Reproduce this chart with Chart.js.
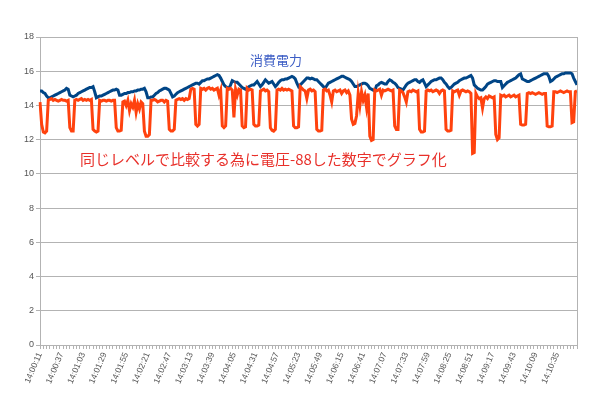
<!DOCTYPE html>
<html>
<head>
<meta charset="utf-8">
<script src="https://cdn.jsdelivr.net/npm/chart.js@4.4.1/dist/chart.umd.min.js"></script>
<style>
html,body{margin:0;padding:0;background:#fff;}
#wrap{width:600px;height:397px;}
</style>
</head>
<body>
<div id="wrap"><canvas id="c" width="600" height="397"></canvas></div>
<script>
// ---- data ----
const startTime = '14:00:11';
const stepSeconds = 2;
const labelEvery = 13; // a time label every 26 seconds

const powerTitle = '消費電力';
const noteText = '同じレベルで比較する為に電圧-88した数字でグラフ化';

// 消費電力 (blue)
const powerValues = [
14.85,14.85,14.75,14.7,14.55,14.45,14.45,14.5,14.55,14.6,
14.65,14.7,14.75,14.8,14.85,14.9,15.0,14.95,14.6,14.55,
14.5,14.55,14.6,14.7,14.75,14.8,14.85,14.9,14.95,15.0,
15.05,15.05,15.1,14.8,14.45,14.5,14.55,14.55,14.6,14.65,
14.7,14.75,14.8,14.85,14.9,14.9,14.95,14.9,14.6,14.6,
14.65,14.7,14.7,14.75,14.75,14.8,14.8,14.85,14.85,14.9,
14.9,14.95,14.95,15.0,14.8,14.45,14.45,14.5,14.5,14.6,
14.7,14.75,14.85,14.9,14.95,15.0,15.0,14.95,14.9,14.7,
14.5,14.55,14.65,14.75,14.8,14.85,14.9,14.95,15.0,15.05,
15.1,15.15,15.2,15.25,15.3,15.3,15.25,15.35,15.45,15.45,
15.5,15.55,15.55,15.6,15.65,15.7,15.75,15.8,15.75,15.6,
15.4,15.2,15.1,15.05,15.0,15.2,15.45,15.4,15.35,15.35,
15.25,15.15,15.05,15.0,14.95,15.0,15.1,15.15,15.2,15.2,
15.3,15.4,15.25,15.1,15.2,15.35,15.5,15.4,15.3,15.35,
15.4,15.25,15.1,15.2,15.35,15.45,15.5,15.5,15.55,15.55,
15.6,15.65,15.7,15.65,15.55,15.3,15.1,15.2,15.3,15.4,
15.5,15.6,15.6,15.55,15.6,15.55,15.5,15.5,15.4,15.3,
15.2,15.1,15.0,15.15,15.3,15.35,15.4,15.45,15.5,15.55,
15.6,15.65,15.7,15.7,15.65,15.6,15.55,15.5,15.4,15.25,
15.1,15.1,15.15,15.2,15.25,15.3,15.3,15.25,15.15,15.0,
14.95,14.9,14.85,15.15,15.2,15.3,15.35,15.3,15.25,15.25,
15.4,15.5,15.45,15.35,15.3,15.2,15.05,15.0,14.95,14.9,
15.05,15.2,15.3,15.35,15.4,15.45,15.5,15.5,15.4,15.35,
15.45,15.5,15.3,15.1,15.2,15.3,15.4,15.45,15.5,15.5,
15.55,15.6,15.6,15.5,15.35,15.25,15.1,15.0,15.05,15.15,
15.25,15.3,15.35,15.45,15.5,15.55,15.6,15.6,15.65,15.7,
15.75,15.6,15.2,15.1,15.0,14.95,14.9,14.9,15.0,15.1,
15.25,15.3,15.35,15.4,15.45,15.45,15.4,15.4,15.4,15.05,
15.15,15.25,15.35,15.4,15.45,15.5,15.55,15.6,15.7,15.8,
15.85,15.55,15.5,15.45,15.4,15.4,15.45,15.5,15.55,15.6,
15.65,15.7,15.75,15.8,15.85,15.85,15.85,15.7,15.4,15.45,
15.55,15.65,15.7,15.75,15.8,15.85,15.85,15.9,15.9,15.9,
15.9,15.85,15.6,15.4,15.2
];

// 電圧-88 (orange)
const voltageValues = [
14.2,12.9,12.45,12.4,12.5,14.3,14.35,14.4,14.3,14.35,
14.3,14.25,14.3,14.35,14.3,14.3,14.25,14.3,12.7,12.5,
12.5,14.3,14.35,14.3,14.35,14.4,14.3,14.35,14.3,14.35,
14.3,14.35,12.6,12.5,12.45,12.5,14.3,14.25,14.3,14.3,
14.25,14.3,14.3,14.25,14.3,14.3,12.7,12.5,12.5,12.55,
14.2,14.25,14.0,14.3,13.7,14.1,13.9,14.3,13.6,14.1,
13.8,14.2,14.1,12.5,12.2,12.2,12.3,14.3,14.3,14.35,
14.3,14.2,14.25,14.3,14.3,14.2,14.3,14.25,12.6,12.5,
12.5,12.6,14.3,14.35,14.4,14.35,14.4,14.3,14.4,14.35,
14.4,14.95,15.0,14.95,12.9,12.8,12.9,15.0,14.95,15.0,
14.9,15.0,15.05,14.95,15.0,14.9,14.95,15.0,14.6,14.9,
12.8,12.7,12.8,15.0,14.95,15.0,14.9,13.3,14.95,14.6,
14.95,14.9,12.8,12.7,12.75,15.0,14.9,14.95,14.9,12.9,
12.8,12.8,12.85,14.85,14.9,14.95,14.85,14.9,14.8,12.7,
12.55,12.5,12.6,14.9,14.95,14.9,15.0,14.9,14.95,14.9,
14.95,14.9,14.85,12.8,12.7,12.7,12.75,15.1,15.0,14.9,
14.85,14.4,14.9,14.95,14.85,14.9,14.8,12.6,12.5,12.5,
12.55,14.9,14.95,14.85,14.9,14.6,14.2,14.85,14.9,14.8,
14.85,14.9,14.7,14.85,14.9,14.75,14.85,14.6,13.2,12.9,
12.95,13.4,14.7,14.0,14.8,14.3,14.6,13.9,14.7,12.2,
11.95,12.0,14.9,14.85,14.9,14.95,14.6,14.9,14.85,14.9,
14.95,14.9,14.85,14.9,12.8,12.6,12.6,14.9,14.85,14.75,
14.5,14.2,14.8,14.85,14.8,14.9,14.85,14.8,14.85,12.6,
12.45,12.45,12.5,14.85,14.9,14.85,14.9,14.8,14.85,14.9,
14.85,14.7,14.85,14.9,14.85,12.6,12.5,12.5,12.55,14.85,
14.8,14.85,14.9,14.6,14.85,14.9,14.85,14.8,14.85,14.8,
14.7,11.2,11.25,14.7,14.5,14.4,14.45,13.85,14.4,14.5,
14.4,14.55,14.5,14.45,14.5,12.3,12.0,12.1,14.6,14.55,
14.6,14.5,14.55,14.6,14.5,14.55,14.6,14.5,14.55,14.6,
12.9,12.85,12.85,12.9,14.7,14.75,14.7,14.75,14.7,14.65,
14.7,14.75,14.7,14.65,14.7,14.7,12.8,12.75,12.75,12.8,
14.8,14.8,14.75,14.8,14.85,14.8,14.75,14.8,14.85,14.8,
14.8,13.0,13.05,14.8,14.85
];

// time categories (one every 2 seconds from the start time)
const timeLabels = [];
(function(){
  const p = startTime.split(':').map(Number);
  let t = p[0]*3600 + p[1]*60 + p[2];
  const pad = n => String(n).padStart(2,'0');
  for (let i = 0; i < powerValues.length; i++, t += stepSeconds) {
    timeLabels.push(pad(Math.floor(t/3600)) + ':' + pad(Math.floor(t/60)%60) + ':' + pad(t%60));
  }
})();

// ---- chart ----
const gridGrey = '#b3b3b3';
const overlay = {
  id: 'overlay',
  afterDraw(chart){
    const {ctx, chartArea:a} = chart;
    ctx.save();
    ctx.strokeStyle = gridGrey; ctx.lineWidth = 1;
    const rx = Math.round(a.right) + 0.5;
    ctx.beginPath(); ctx.moveTo(rx, a.top); ctx.lineTo(rx, a.bottom); ctx.stroke();
    ctx.textBaseline = 'middle';
    ctx.textAlign = 'left';
    ctx.font = '13px "Noto Sans CJK JP"';
    ctx.fillStyle = '#3b5cc4';
    ctx.fillText(powerTitle, 250, 60);
    ctx.font = '15px "Noto Sans CJK JP"';
    ctx.fillStyle = '#e8302a';
    ctx.fillText(noteText, 80, 159);
    ctx.restore();
  }
};

new Chart(document.getElementById('c'), {
  type: 'line',
  data: {
    labels: timeLabels,
    datasets: [
      { label: powerTitle, data: powerValues, borderColor: '#004586', backgroundColor: '#004586',
        borderWidth: 3, pointRadius: 0, tension: 0, order: 1 },
      { label: '電圧-88', data: voltageValues, borderColor: '#ff420e', backgroundColor: '#ff420e',
        borderWidth: 3, pointRadius: 0, tension: 0, order: 0 }
    ]
  },
  options: {
    responsive: false,
    animation: false,
    layout: { padding: { top: 37, right: 23, left: 0, bottom: 0 } },
    plugins: { legend: { display: false }, tooltip: { enabled: false }, title: { display: false } },
    scales: {
      x: {
        type: 'category',
        offset: false,
        grid: {
          drawOnChartArea: false, drawTicks: true, tickLength: 4,
          tickColor: c => (c.index % 2 === 0 ? gridGrey : 'rgba(0,0,0,0)')
        },
        border: { display: true, color: gridGrey },
        ticks: {
          autoSkip: false, minRotation: 67, maxRotation: 67, padding: 2,
          font: { family: '"Liberation Sans", Arial, sans-serif', size: 8.5 },
          color: '#555',
          callback: (v, i) => (i % labelEvery === 0 ? timeLabels[i] : '')
        },
        afterFit: s => { s.height = 52; }
      },
      y: {
        min: 0, max: 18,
        grid: { color: gridGrey, tickLength: 4 },
        border: { display: true, color: gridGrey },
        ticks: {
          stepSize: 2, padding: 2,
          font: { family: '"Liberation Sans", Arial, sans-serif', size: 9 },
          color: '#555'
        },
        afterFit: s => { s.width = 40; }
      }
    }
  },
  plugins: [overlay]
});
</script>
</body>
</html>
